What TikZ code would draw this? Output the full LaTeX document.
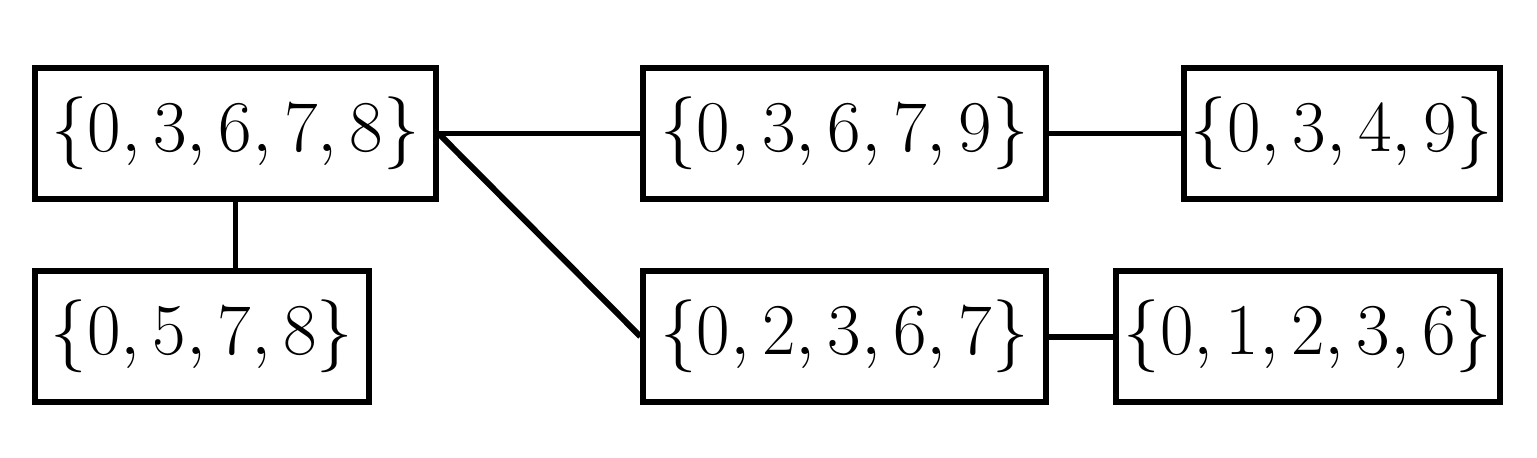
\documentclass[tikz,border=0pt]{standalone}
\begin{document}
\begin{tikzpicture}[x=0.01cm,y=-0.01cm,
  setbox/.style={draw, line width=1.7pt, rectangle, minimum height=1.30cm, inner sep=0pt, font=\fontsize{20}{24}\selectfont},
  link/.style={line width=1.7pt}]
\useasboundingbox (0,0) rectangle (1537,457);
\node[setbox, minimum width=4.00cm] (A) at (235.5,133.5) {$\{0,3,6,7,8\}$};
\node[setbox, minimum width=3.33cm] (B) at (202,336.5) {$\{0,5,7,8\}$};
\node[setbox, minimum width=4.02cm] (C) at (844.5,133.5) {$\{0,3,6,7,9\}$};
\node[setbox, minimum width=3.15cm] (D) at (1342,133.5) {$\{0,3,4,9\}$};
\node[setbox, minimum width=4.02cm] (E) at (844.5,336.5) {$\{0,2,3,6,7\}$};
\node[setbox, minimum width=3.83cm] (F) at (1308,336.5) {$\{0,1,2,3,6\}$};
\draw[link] (A.south) -- (A.south |- B.north);
\draw[link] (A.east) -- (C.west);
\draw[link] (A.east) -- (E.west);
\draw[link] (C.east) -- (D.west);
\draw[link] (E.east) -- (F.west);
\end{tikzpicture}
\end{document}
